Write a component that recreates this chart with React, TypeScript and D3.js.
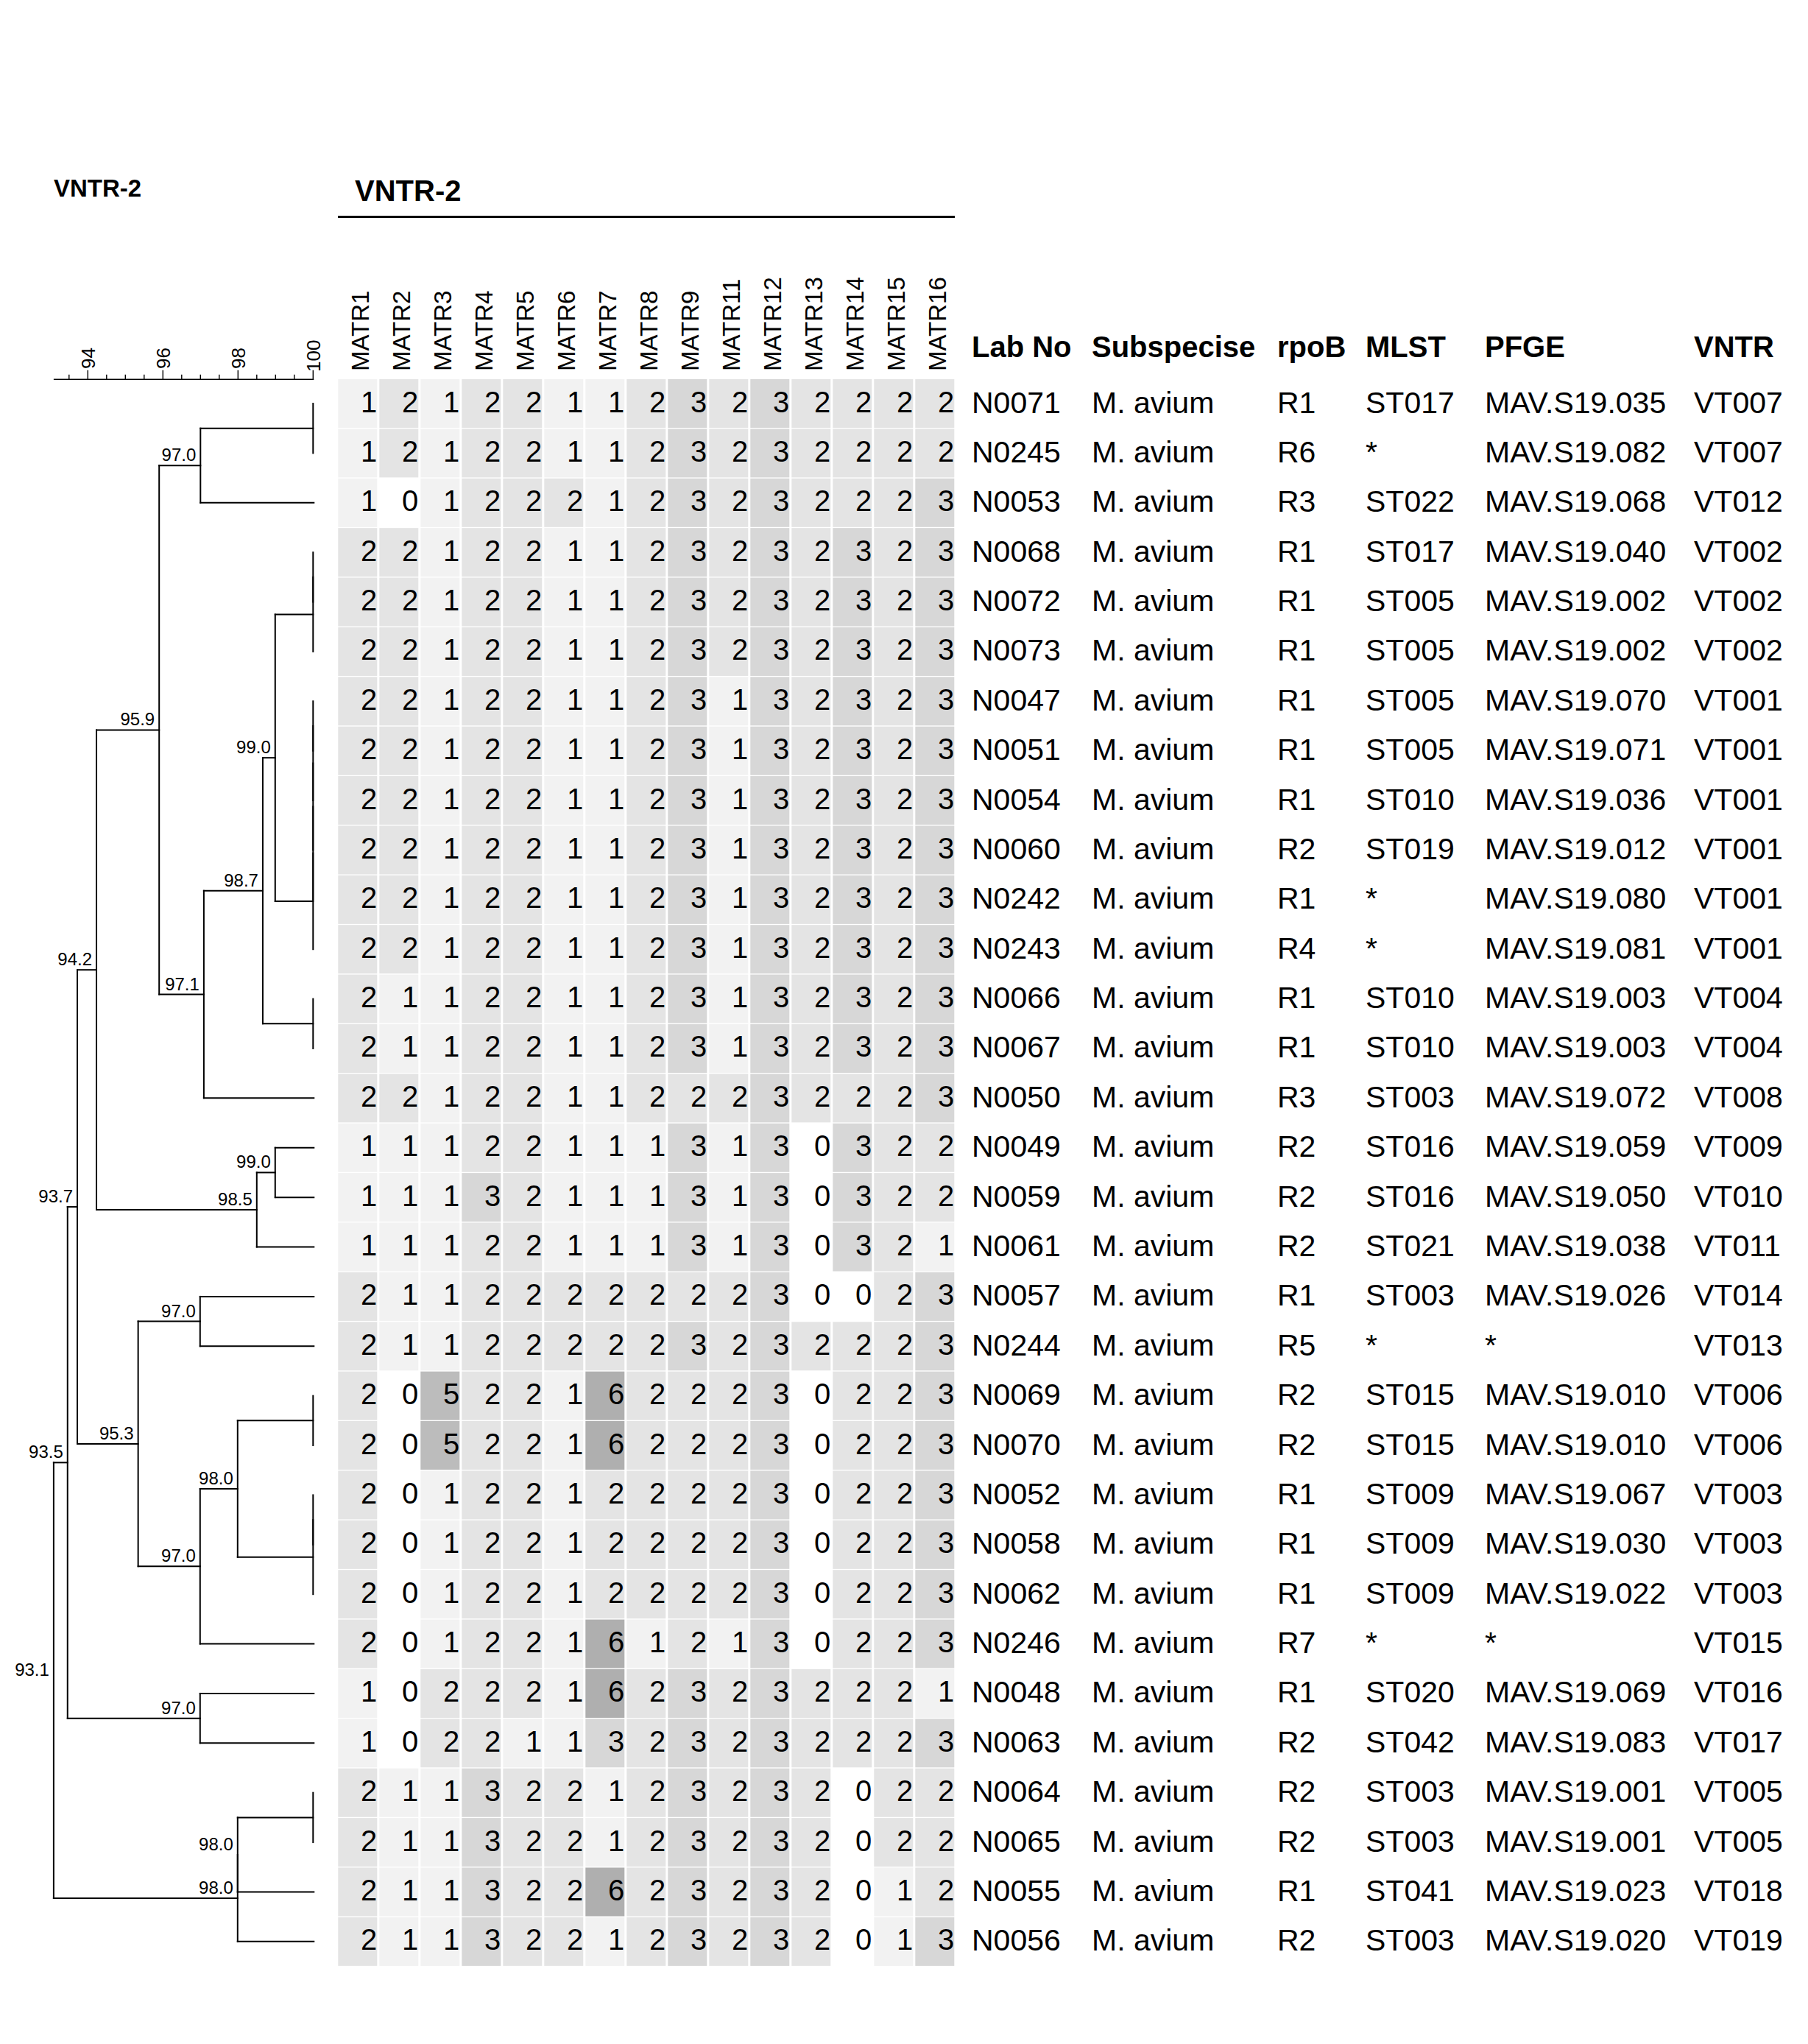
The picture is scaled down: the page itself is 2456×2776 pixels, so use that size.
import React from "react";
import * as d3 from "d3";

// ---------------- DATA ----------------
const titleLeft = "VNTR-2";
const titleHeat = "VNTR-2";

const markers = [
  "MATR1", "MATR2", "MATR3", "MATR4", "MATR5", "MATR6", "MATR7", "MATR8",
  "MATR9", "MATR11", "MATR12", "MATR13", "MATR14", "MATR15", "MATR16",
];

const tableHeaders = ["Lab No", "Subspecise", "rpoB", "MLST", "PFGE", "VNTR"];

const labNo = [
  "N0071", "N0245", "N0053", "N0068", "N0072", "N0073", "N0047", "N0051",
  "N0054", "N0060", "N0242", "N0243", "N0066", "N0067", "N0050", "N0049",
  "N0059", "N0061", "N0057", "N0244", "N0069", "N0070", "N0052", "N0058",
  "N0062", "N0246", "N0048", "N0063", "N0064", "N0065", "N0055", "N0056",
];

const subspecies = [
  "M. avium", "M. avium", "M. avium", "M. avium", "M. avium", "M. avium", "M. avium", "M. avium",
  "M. avium", "M. avium", "M. avium", "M. avium", "M. avium", "M. avium", "M. avium", "M. avium",
  "M. avium", "M. avium", "M. avium", "M. avium", "M. avium", "M. avium", "M. avium", "M. avium",
  "M. avium", "M. avium", "M. avium", "M. avium", "M. avium", "M. avium", "M. avium", "M. avium",
];

const rpoB = [
  "R1", "R6", "R3", "R1", "R1", "R1", "R1", "R1",
  "R1", "R2", "R1", "R4", "R1", "R1", "R3", "R2",
  "R2", "R2", "R1", "R5", "R2", "R2", "R1", "R1",
  "R1", "R7", "R1", "R2", "R2", "R2", "R1", "R2",
];

const mlst = [
  "ST017", "*", "ST022", "ST017", "ST005", "ST005", "ST005", "ST005",
  "ST010", "ST019", "*", "*", "ST010", "ST010", "ST003", "ST016",
  "ST016", "ST021", "ST003", "*", "ST015", "ST015", "ST009", "ST009",
  "ST009", "*", "ST020", "ST042", "ST003", "ST003", "ST041", "ST003",
];

const pfge = [
  "MAV.S19.035", "MAV.S19.082", "MAV.S19.068", "MAV.S19.040", "MAV.S19.002", "MAV.S19.002", "MAV.S19.070", "MAV.S19.071",
  "MAV.S19.036", "MAV.S19.012", "MAV.S19.080", "MAV.S19.081", "MAV.S19.003", "MAV.S19.003", "MAV.S19.072", "MAV.S19.059",
  "MAV.S19.050", "MAV.S19.038", "MAV.S19.026", "*", "MAV.S19.010", "MAV.S19.010", "MAV.S19.067", "MAV.S19.030",
  "MAV.S19.022", "*", "MAV.S19.069", "MAV.S19.083", "MAV.S19.001", "MAV.S19.001", "MAV.S19.023", "MAV.S19.020",
];

const vntrType = [
  "VT007", "VT007", "VT012", "VT002", "VT002", "VT002", "VT001", "VT001",
  "VT001", "VT001", "VT001", "VT001", "VT004", "VT004", "VT008", "VT009",
  "VT010", "VT011", "VT014", "VT013", "VT006", "VT006", "VT003", "VT003",
  "VT003", "VT015", "VT016", "VT017", "VT005", "VT005", "VT018", "VT019",
];

const profiles: number[][] = [
  [1, 2, 1, 2, 2, 1, 1, 2, 3, 2, 3, 2, 2, 2, 2],
  [1, 2, 1, 2, 2, 1, 1, 2, 3, 2, 3, 2, 2, 2, 2],
  [1, 0, 1, 2, 2, 2, 1, 2, 3, 2, 3, 2, 2, 2, 3],
  [2, 2, 1, 2, 2, 1, 1, 2, 3, 2, 3, 2, 3, 2, 3],
  [2, 2, 1, 2, 2, 1, 1, 2, 3, 2, 3, 2, 3, 2, 3],
  [2, 2, 1, 2, 2, 1, 1, 2, 3, 2, 3, 2, 3, 2, 3],
  [2, 2, 1, 2, 2, 1, 1, 2, 3, 1, 3, 2, 3, 2, 3],
  [2, 2, 1, 2, 2, 1, 1, 2, 3, 1, 3, 2, 3, 2, 3],
  [2, 2, 1, 2, 2, 1, 1, 2, 3, 1, 3, 2, 3, 2, 3],
  [2, 2, 1, 2, 2, 1, 1, 2, 3, 1, 3, 2, 3, 2, 3],
  [2, 2, 1, 2, 2, 1, 1, 2, 3, 1, 3, 2, 3, 2, 3],
  [2, 2, 1, 2, 2, 1, 1, 2, 3, 1, 3, 2, 3, 2, 3],
  [2, 1, 1, 2, 2, 1, 1, 2, 3, 1, 3, 2, 3, 2, 3],
  [2, 1, 1, 2, 2, 1, 1, 2, 3, 1, 3, 2, 3, 2, 3],
  [2, 2, 1, 2, 2, 1, 1, 2, 2, 2, 3, 2, 2, 2, 3],
  [1, 1, 1, 2, 2, 1, 1, 1, 3, 1, 3, 0, 3, 2, 2],
  [1, 1, 1, 3, 2, 1, 1, 1, 3, 1, 3, 0, 3, 2, 2],
  [1, 1, 1, 2, 2, 1, 1, 1, 3, 1, 3, 0, 3, 2, 1],
  [2, 1, 1, 2, 2, 2, 2, 2, 2, 2, 3, 0, 0, 2, 3],
  [2, 1, 1, 2, 2, 2, 2, 2, 3, 2, 3, 2, 2, 2, 3],
  [2, 0, 5, 2, 2, 1, 6, 2, 2, 2, 3, 0, 2, 2, 3],
  [2, 0, 5, 2, 2, 1, 6, 2, 2, 2, 3, 0, 2, 2, 3],
  [2, 0, 1, 2, 2, 1, 2, 2, 2, 2, 3, 0, 2, 2, 3],
  [2, 0, 1, 2, 2, 1, 2, 2, 2, 2, 3, 0, 2, 2, 3],
  [2, 0, 1, 2, 2, 1, 2, 2, 2, 2, 3, 0, 2, 2, 3],
  [2, 0, 1, 2, 2, 1, 6, 1, 2, 1, 3, 0, 2, 2, 3],
  [1, 0, 2, 2, 2, 1, 6, 2, 3, 2, 3, 2, 2, 2, 1],
  [1, 0, 2, 2, 1, 1, 3, 2, 3, 2, 3, 2, 2, 2, 3],
  [2, 1, 1, 3, 2, 2, 1, 2, 3, 2, 3, 2, 0, 2, 2],
  [2, 1, 1, 3, 2, 2, 1, 2, 3, 2, 3, 2, 0, 2, 2],
  [2, 1, 1, 3, 2, 2, 6, 2, 3, 2, 3, 2, 0, 1, 2],
  [2, 1, 1, 3, 2, 2, 1, 2, 3, 2, 3, 2, 0, 1, 3],
];

// Dendrogram (UPGMA). Leaves = row indices; number after ")" = similarity (%) of that node.
const cladeA = "((0,1)100,2)97.0";
const cladeB = "(((((3,4)100,5)100,(((((6,7)100,8)100,9)100,10)100,11)100)98.99,(12,13)100)98.66,14)97.09";
const cladeC = "((15,16)98.99,17)98.5";
const cladeD = "((18,19)96.99,(((20,21)100,((22,23)100,24)100)97.99,25)96.99)95.34";
const cladeE = "(26,27)96.99";
const cladeF = "(((28,29)100,30)97.99,31)97.99";
const treeNewick =
  "((((" + cladeA + "," + cladeB + ")95.9," + cladeC + ")94.23," + cladeD + ")93.72," +
  cladeE + ")93.46," + cladeF + ")93.09";
const treeString = "(" + treeNewick;

const axisMajorTicks = [94, 96, 98, 100];
const axisMinorTicks = [93.5, 94.5, 95, 95.5, 96.5, 97, 97.5, 98.5, 99, 99.5];

// ---------------- HELPERS ----------------
type TNode = { sim?: number; leaf?: number; children?: TNode[] };

function parseTree(s: string): TNode {
  let i = 0;
  function node(): TNode {
    if (s[i] === "(") {
      i++;
      const children = [node()];
      while (s[i] === ",") {
        i++;
        children.push(node());
      }
      i++; // ')'
      const st = i;
      while (i < s.length && /[0-9.]/.test(s[i])) i++;
      return { sim: +s.slice(st, i), children };
    }
    const st = i;
    while (i < s.length && /[0-9]/.test(s[i])) i++;
    return { leaf: +s.slice(st, i) };
  }
  return node();
}

const FONT = "'Liberation Sans', Arial, Helvetica, sans-serif";

export default function App() {
  const W = 2456;
  const H = 2776;
  const nRows = labNo.length;
  const pitch = 67.34;

  // scales
  const y = d3
    .scaleBand<number>()
    .domain(d3.range(nRows))
    .range([515, 515 + nRows * pitch])
    .paddingInner(0.02)
    .paddingOuter(0);
  const yc = (i: number) => (y(i) as number) + y.bandwidth() / 2;

  const xCol = d3
    .scaleBand<string>()
    .domain(markers)
    .range([459.3, 459.3 + markers.length * 56 - 3])
    .paddingInner(3 / 56)
    .paddingOuter(0);

  const xSim = d3.scaleLinear().domain([93, 100]).range([425.3 - 7 * 51, 425.3]);

  const color = d3.scaleLinear<string>().domain([0, 6]).range(["#ffffff", "#afafaf"]);

  // tree layout
  const root = d3.hierarchy<TNode>(parseTree(treeString), (d) => d.children);
  const pos = new Map<any, { x: number; y: number }>();
  root.eachAfter((n) => {
    if (!n.children) {
      pos.set(n, { x: xSim(100), y: yc(n.data.leaf as number) });
    } else {
      const f = pos.get(n.children[0])!;
      const l = pos.get(n.children[n.children.length - 1])!;
      pos.set(n, { x: xSim(n.data.sim as number), y: (f.y + l.y) / 2 });
    }
  });

  const segs: { x1: number; y1: number; x2: number; y2: number }[] = [];
  const nodeLabels: { x: number; y: number; t: string }[] = [];
  root.each((n) => {
    if (!n.children) return;
    const p = pos.get(n)!;
    const f = pos.get(n.children[0])!;
    const l = pos.get(n.children[n.children.length - 1])!;
    segs.push({ x1: p.x, y1: f.y, x2: p.x, y2: l.y });
    n.children.forEach((c) => {
      const cp = pos.get(c)!;
      if (cp.x > p.x) segs.push({ x1: p.x, y1: cp.y, x2: c.children ? cp.x : cp.x + 1, y2: cp.y });
    });
    if ((n.data.sim as number) < 100) {
      nodeLabels.push({ x: p.x - 6, y: p.y - 6, t: d3.format(".1f")(n.data.sim as number) });
    }
  });

  const rootSim = root.data.sim as number;

  const tableX = [1320, 1483, 1735, 1855, 2017, 2301];
  const tableCols = [labNo, subspecies, rpoB, mlst, pfge, vntrType];

  return (
    <svg
      width={W}
      height={H}
      viewBox={`0 0 ${W} ${H}`}
      style={{ position: "absolute", left: 0, top: 0, background: "#fff" }}
      fontFamily={FONT}
    >
      <rect x={0} y={0} width={W} height={H} fill="#fff" />

      {/* titles */}
      <text x={73} y={266.5} fontSize={33} fontWeight="bold" fill="#000">
        {titleLeft}
      </text>
      <text x={482} y={272.5} fontSize={40} fontWeight="bold" fill="#000">
        {titleHeat}
      </text>
      <line x1={459} x2={1297} y1={294.5} y2={294.5} stroke="#000" strokeWidth={3} />

      {/* similarity axis */}
      <g>
        <line x1={xSim(rootSim)} x2={xSim(100) + 1} y1={515.3} y2={515.3} stroke="#000" strokeWidth={1.6} />
        {axisMajorTicks.map((t) => (
          <g key={"M" + t}>
            <line x1={xSim(t)} x2={xSim(t)} y1={502.7} y2={515.3} stroke="#000" strokeWidth={1.4} />
            <text
              transform={`translate(${xSim(t) + 9.3},${t === 100 ? 505 : 501}) rotate(-90)`}
              fontSize={26}
              fill="#000"
            >
              {t}
            </text>
          </g>
        ))}
        {axisMinorTicks.map((t) => (
          <line key={"m" + t} x1={xSim(t)} x2={xSim(t)} y1={508.7} y2={515.3} stroke="#000" strokeWidth={1.4} />
        ))}
      </g>

      {/* dendrogram */}
      <g stroke="#000" strokeWidth={2} strokeLinecap="square">
        {segs.map((s, i) => (
          <line key={i} x1={s.x1} y1={s.y1} x2={s.x2} y2={s.y2} />
        ))}
      </g>
      <g fontSize={24} fill="#000" textAnchor="end">
        {nodeLabels.map((l, i) => (
          <text key={i} x={l.x} y={l.y}>
            {l.t}
          </text>
        ))}
      </g>

      {/* heatmap column labels */}
      <g fontSize={33} fill="#000">
        {markers.map((m) => (
          <text
            key={m}
            transform={`translate(${(xCol(m) as number) + xCol.bandwidth() / 2 + 15.2},504) rotate(-90)`}
          >
            {m}
          </text>
        ))}
      </g>

      {/* heatmap cells */}
      <g>
        {profiles.map((row, ri) =>
          row.map((v, ci) => (
            <rect
              key={ri + "-" + ci}
              x={xCol(markers[ci])}
              y={y(ri)}
              width={xCol.bandwidth()}
              height={y.bandwidth()}
              fill={color(v)}
            />
          ))
        )}
      </g>
      <g fontSize={40} fill="#000" textAnchor="end">
        {profiles.map((row, ri) =>
          row.map((v, ci) => (
            <text
              key={ri + "-" + ci}
              x={(xCol(markers[ci]) as number) + xCol.bandwidth()}
              y={yc(ri) + 11.5}
            >
              {v}
            </text>
          ))
        )}
      </g>

      {/* table */}
      <g fontSize={40} fontWeight="bold" fill="#000">
        {tableHeaders.map((h, i) => (
          <text key={h} x={tableX[i]} y={485}>
            {h}
          </text>
        ))}
      </g>
      <g fontSize={41} fill="#000">
        {tableCols.map((col, ci) =>
          col.map((v, ri) => (
            <text key={ci + "-" + ri} x={tableX[ci]} y={yc(ri) + 12.5}>
              {v}
            </text>
          ))
        )}
      </g>
    </svg>
  );
}
